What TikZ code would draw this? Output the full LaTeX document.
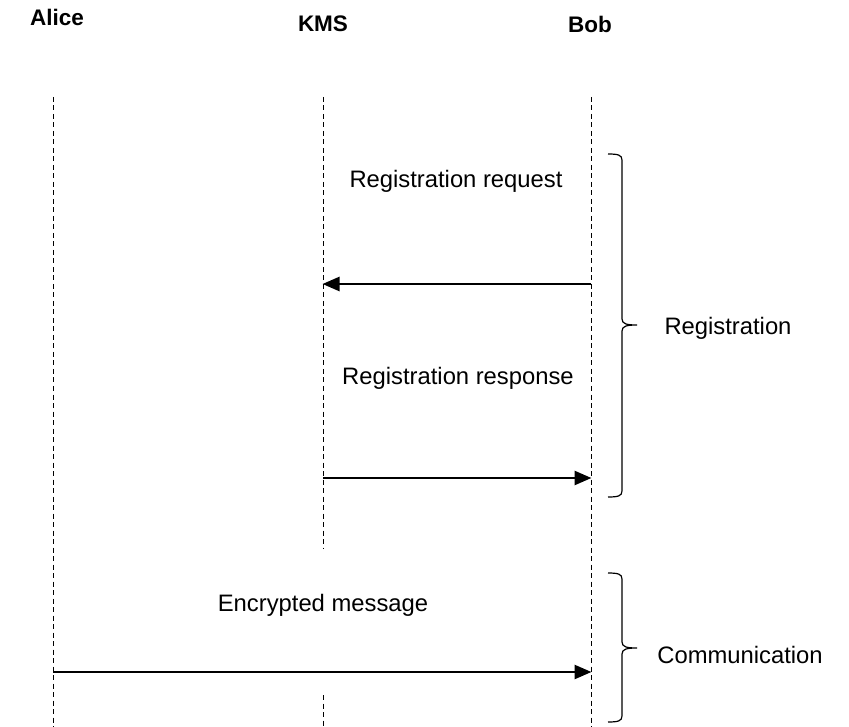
\documentclass[tikz,border=0pt]{standalone}
\usepackage{fontspec}
\setmainfont{Liberation Sans}
\usetikzlibrary{arrows.meta}
\begin{document}
\begin{tikzpicture}[x=1pt,y=-1pt,
  lifeline/.style={line width=1pt,dash pattern=on 5pt off 3.5pt},
  msg/.style={line width=2.6pt,-{Triangle[length=17pt,width=14pt]},shorten >=-0.5pt},
  actor/.style={font=\fontsize{22.5}{26}\selectfont\bfseries,inner sep=0pt},
  lbl/.style={font=\fontsize{23.8}{27}\selectfont,inner sep=0pt},
  bracepath/.style={line width=1.2pt}]
\useasboundingbox (0,0) rectangle (849,727);
% actors
\node[actor] (alice) at (57,17) {Alice};
\node[actor] (kms) at (323,24) {KMS};
\node[actor] (bob) at (590,24) {Bob};
% lifelines
\coordinate (aT) at (53,97);  \coordinate (aB) at (53,727);
\coordinate (kT) at (323,97); \coordinate (kM1) at (323,548);
\coordinate (kM2) at (323,695); \coordinate (kB) at (323,727);
\coordinate (bT) at (591,97); \coordinate (bB) at (591,727);
\draw[lifeline] (aT) -- (aB);
\draw[lifeline] (kT) -- (kM1);
\draw[lifeline] (kM2) -- (kB);
\draw[lifeline] (bT) -- (bB);
% messages
\node[lbl] (l1) at (456,181) {Registration request};
\coordinate (b1) at (591,284); \coordinate (k1) at (323,284);
\draw[msg] (b1) -- (k1);
\node[lbl] (l2) at (458,378) {Registration response};
\coordinate (k2) at (323,478); \coordinate (b2) at (591,478);
\draw[msg] (k2) -- (b2);
\node[lbl] (l3) at (323,605) {Encrypted message};
\coordinate (a3) at (53,672); \coordinate (b3) at (591,672);
\draw[msg] (a3) -- (b3);
% braces
\draw[bracepath] (608,154) .. controls (618,154) and (622,155) .. (622,160)
  -- (622,319) .. controls (622,324) and (627,325) .. (637,325)
  .. controls (627,325) and (622,326) .. (622,331)
  -- (622,491) .. controls (622,496) and (618,497) .. (608,497);
\node[lbl] (reg) at (728,328) {Registration};
\draw[bracepath] (608,573) .. controls (618,573) and (622,574) .. (622,579)
  -- (622,642) .. controls (622,647) and (627,648) .. (637,648)
  .. controls (627,648) and (622,649) .. (622,654)
  -- (622,716) .. controls (622,721) and (618,722) .. (608,722);
\node[lbl] (com) at (740,655) {Communication};
\end{tikzpicture}
\end{document}
